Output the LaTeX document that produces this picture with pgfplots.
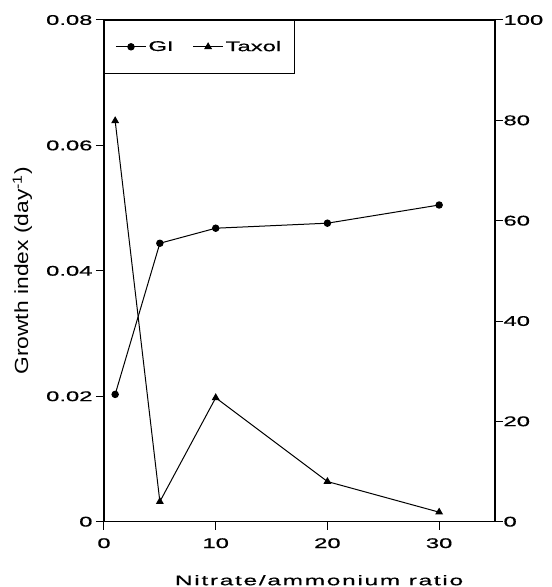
\documentclass[border=0pt]{standalone}
\usepackage{pgfplots}
\pgfplotsset{compat=1.18}
\usepackage{fontspec}
\setmainfont{Liberation Sans}[FakeStretch=1.7,FakeBold=0.6]
\newfontfamily\ylfont{Liberation Sans}[FakeStretch=1.2]
\newfontfamily\xlfont{Liberation Sans}[FakeStretch=1.75,FakeBold=0.6,LetterSpace=12]
\pgfplotstableread{
x gi
1 0.0203
5 0.0444
10 0.0468
20 0.0476
30 0.0505
}\gidata
\pgfplotstableread{
x taxol
1 79.9
5 4.0
10 24.7
20 8.0
30 1.9
}\taxoldata
\pgfplotsset{
  common/.style={
    width=391pt, height=501.7pt, scale only axis,
    at={(0pt,0pt)}, anchor=south west,
    xmin=0, xmax=35,
    scaled x ticks=false, scaled y ticks=false,
    tick align=outside, major tick length=8pt,
    axis line style={line width=1.1pt},
    tick style={line width=1pt, black},
    tick label style={font=\fontsize{14}{16}\selectfont},
    legend image code/.code={%
      \draw[mark repeat=2,mark phase=2] plot coordinates {(0pt,0pt) (15pt,0pt) (30pt,0pt)};},
  }
}
\begin{document}
\begin{tikzpicture}
\useasboundingbox (-104pt,-65.3pt) rectangle (448pt,521.7pt);
\begin{axis}[common,
  ymin=0, ymax=0.08,
  ytick={0,0.02,0.04,0.06,0.08},
  yticklabels={0,0.02,0.04,0.06,0.08},
  xtick={0,10,20,30},
  xticklabels={0,10,20,30},
  xtick pos=bottom, ytick pos=left,
  xticklabel style={yshift=-5pt},
  xlabel={\xlfont\fontsize{14}{16}\selectfont Nitrate/ammonium ratio},
  xlabel style={at={(axis description cs:0.55,0)}, anchor=base, yshift=-63.5pt},
  ylabel={\ylfont\fontsize{19}{21}\selectfont Growth index (day\textsuperscript{-1})},
  ylabel style={at={(axis description cs:0,0.5)}, anchor=center, yshift=81.5pt},
]
\addplot[black, line width=1pt, mark=*, mark size=3.2pt] table[x=x,y=gi] {\gidata};
\end{axis}
\begin{axis}[common,
  ymin=0, ymax=100,
  ytick={0,20,40,60,80,100},
  yticklabels={0,20,40,60,80,100},
  axis x line=none,
  axis y line*=right,
  ytick pos=right,
  yticklabel style={xshift=-3pt},
  legend style={at={(0,1)}, anchor=north west, draw=black, line width=1pt,
    font=\fontsize{14}{16}\selectfont, legend columns=2,
    inner xsep=11pt, inner ysep=18.5pt,
    /tikz/every even column/.append style={column sep=17pt}},
]
\addlegendimage{black, line width=1pt, mark=*, mark size=3.2pt}
\addlegendentry{GI}
\addplot[black, line width=1pt, mark=triangle*, mark size=3.6pt] table[x=x,y=taxol] {\taxoldata};
\addlegendentry{Taxol}
\end{axis}
\end{tikzpicture}
\end{document}
